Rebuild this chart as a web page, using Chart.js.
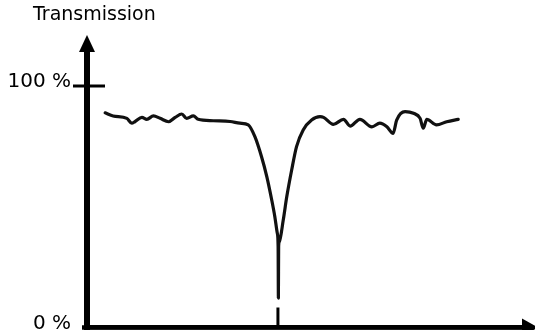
<!DOCTYPE html>
<html>
<head>
<meta charset="utf-8">
<script src="https://cdn.jsdelivr.net/npm/chart.js@4.4.1/dist/chart.umd.min.js"></script>
<style>
  html, body { margin: 0; padding: 0; background: #fff; }
  #chart { display: block; }
</style>
</head>
<body>
<canvas id="chart" width="535" height="330"></canvas>
<script>
// position along the x axis (arbitrary units 0..100) and transmission in %
const xValues = [4.1, 5.9, 9.0, 10.1, 10.8, 12.4, 13.5, 15.0, 16.5, 18.4, 19.9, 21.4, 22.5, 24.0, 25.1, 28.5, 32.3, 34.5, 36.4, 37.9, 39.4, 40.6, 41.7, 42.4, 42.96, 43.14, 43.2, 43.26, 43.4, 44.3, 45.1, 46.2, 47.3, 48.8, 50.7, 52.6, 53.4, 55.6, 57.9, 59.4, 61.6, 64.3, 66.1, 67.7, 69.1, 69.9, 71.8, 73.7, 75.2, 75.9, 76.7, 78.9, 81.2, 83.8];
const transmission = [88.9, 87.6, 86.6, 84.6, 85.2, 87.0, 86.2, 87.6, 86.6, 85.2, 87.0, 88.4, 86.6, 87.6, 86.2, 85.6, 85.3, 84.6, 83.9, 79.0, 70.7, 62.4, 52.8, 45.9, 39.0, 33.7, 12.2, 33.7, 35.4, 44.5, 54.2, 65.2, 74.9, 81.8, 85.9, 87.3, 87.0, 84.1, 86.2, 83.4, 86.2, 83.1, 84.6, 83.1, 80.4, 85.9, 89.4, 88.7, 86.6, 82.5, 86.2, 83.9, 85.2, 86.2];
const dipX = 43.1;
const yTickValues = [0, 100];
const yTickLabels = ["0 %", "100 %"];
const axisTitle = "Transmission";

const points = xValues.map((x, i) => ({ x: x, y: transmission[i] }));

const axesPlugin = {
    id: "axesArrows",
    afterDraw(chart) {
        const ctx = chart.ctx;
        const { left, right, bottom } = chart.chartArea;
        const yTop = chart.scales.y.getPixelForValue(100);
        const dip = chart.scales.x.getPixelForValue(dipX);
        ctx.save();
        ctx.strokeStyle = "#000";
        ctx.fillStyle = "#000";

        // axis title above the arrow
        ctx.font = "19px 'DejaVu Sans'";
        ctx.textAlign = "left";
        ctx.textBaseline = "middle";
        ctx.fillText(axisTitle, 33, 15.5);

        // vertical axis up to the arrow and down to the edge
        ctx.lineWidth = 6;
        ctx.beginPath();
        ctx.moveTo(left, 50);
        ctx.lineTo(left, chart.height);
        ctx.stroke();
        ctx.beginPath();
        ctx.moveTo(left, 35);
        ctx.lineTo(left - 8, 52);
        ctx.lineTo(left + 8, 52);
        ctx.closePath();
        ctx.fill();

        // horizontal axis with arrow
        ctx.lineWidth = 4.5;
        ctx.beginPath();
        ctx.moveTo(82, bottom);
        ctx.lineTo(right - 6, bottom);
        ctx.stroke();
        ctx.beginPath();
        ctx.moveTo(right + 8, bottom);
        ctx.lineTo(right - 8, bottom - 9);
        ctx.lineTo(right - 8, bottom + 9);
        ctx.closePath();
        ctx.fill();

        // 100 % cross tick
        ctx.lineWidth = 3;
        ctx.beginPath();
        ctx.moveTo(left - 14, yTop);
        ctx.lineTo(left + 18, yTop);
        ctx.stroke();

        // marker under the dip
        ctx.beginPath();
        ctx.moveTo(dip, bottom - 20);
        ctx.lineTo(dip, bottom);
        ctx.stroke();
        ctx.restore();
    }
};

new Chart(document.getElementById("chart"), {
    type: "line",
    data: {
        datasets: [
            {
                data: points,
                borderColor: "#111",
                borderWidth: 3.2,
                pointRadius: 0,
                cubicInterpolationMode: "monotone",
                borderJoinStyle: "round",
                borderCapStyle: "round",
                fill: false,
            },
        ],
    },
    options: {
        responsive: false,
        animation: false,
        devicePixelRatio: 1,
        layout: { padding: { left: 4, right: 5, top: 86, bottom: 0 } },
        plugins: {
            legend: { display: false },
            tooltip: { enabled: false },
            title: { display: false },
        },
        scales: {
            x: {
                type: "linear",
                min: 0,
                max: 100,
                grid: { display: false },
                ticks: { display: false },
                border: { display: true, color: "#000", width: 4.5 },
                afterFit(scale) {
                    scale.height = 2.5;
                    scale.paddingLeft = 0;
                    scale.paddingRight = 0;
                },
            },
            y: {
                min: 0,
                max: 100,
                grid: { display: false, drawTicks: false },
                border: { display: true, color: "#000", width: 6 },
                afterBuildTicks(scale) {
                    scale.ticks = yTickValues.map((v) => ({ value: v }));
                },
                ticks: {
                    color: "#000",
                    padding: 16,
                    labelOffset: -4,
                    font: { family: "DejaVu Sans", size: 20 },
                    callback: (v) => yTickLabels[yTickValues.indexOf(Number(v))],
                },
                afterFit(scale) {
                    scale.width = 83;
                    scale.paddingTop = 0;
                    scale.paddingBottom = 0;
                },
            },
        },
    },
    plugins: [axesPlugin],
});
</script>
</body>
</html>
